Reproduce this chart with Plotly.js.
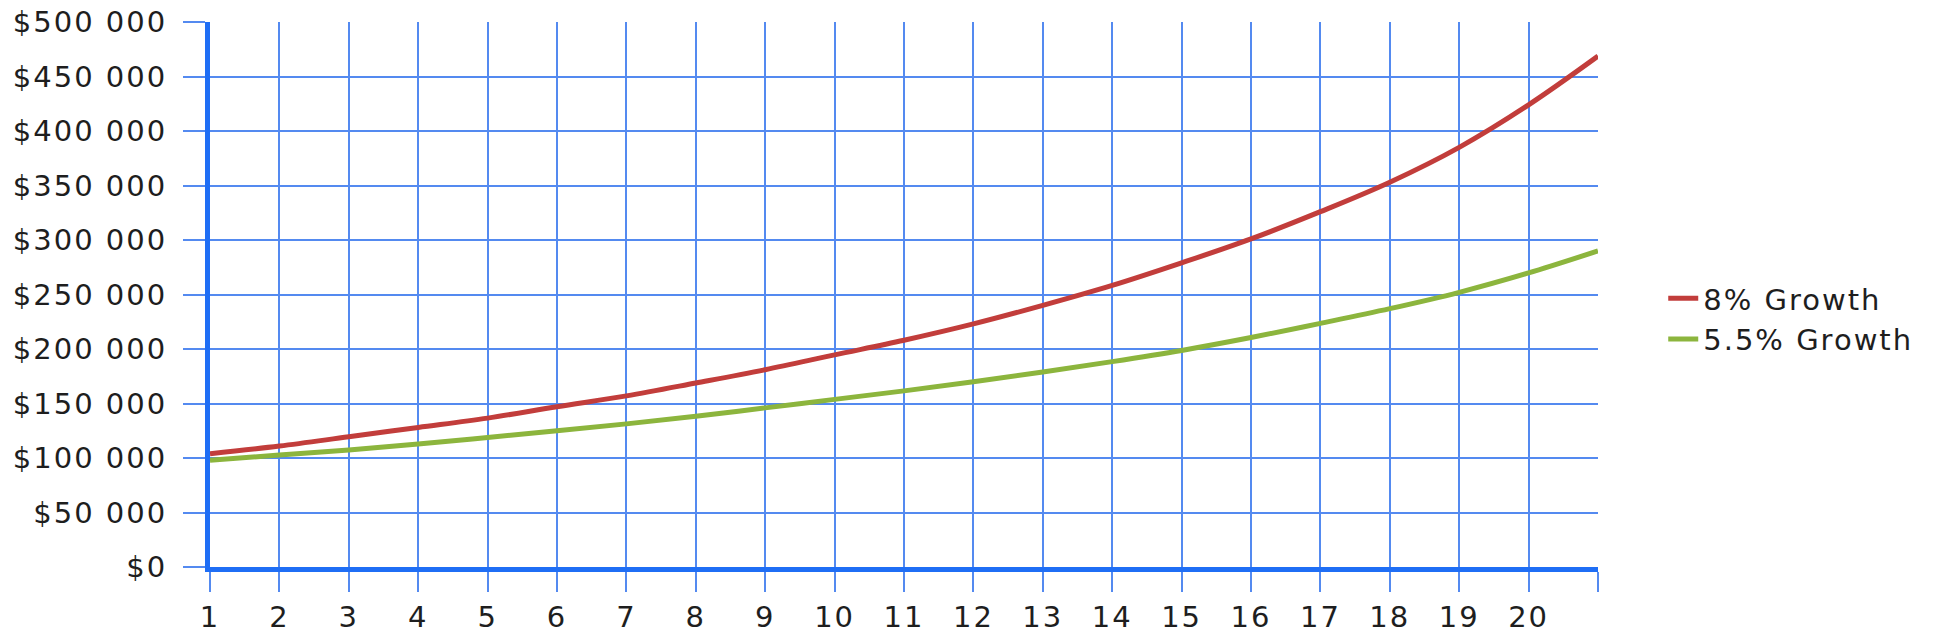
<!DOCTYPE html>
<html>
<head>
<meta charset="utf-8">
<script src="https://cdn.plot.ly/plotly-3.0.1.min.js"></script>
<style>
  html, body { margin: 0; padding: 0; background: #fff; }
  #chart { width: 1950px; height: 644px; }
  svg text { letter-spacing: 2px; }
</style>
</head>
<body>
<div id="chart"></div>
<script>
// Years (x positions) — last one is the right edge of the plot
const years = [1, 2, 3, 4, 5, 6, 7, 8, 9, 10, 11, 12, 13, 14, 15, 16, 17, 18, 19, 20, 21];
const xTickLabels = ['1','2','3','4','5','6','7','8','9','10','11','12','13','14','15','16','17','18','19','20',''];

// Series values
const growth8 = [104000, 111000, 119500, 128000, 136600, 147000, 157000, 168800, 181000, 194600,
                 208000, 223000, 240000, 258300, 279000, 301000, 326000, 353000, 385000, 424000, 468700];
const growth55 = [98000, 102700, 107300, 112800, 118800, 125000, 131300, 138300, 146000, 153800,
                  161600, 169900, 178900, 188400, 198700, 210500, 223500, 237000, 252000, 269800, 290000];

const seriesNames = ['8% Growth', '5.5% Growth'];

const yTickVals = [0, 50000, 100000, 150000, 200000, 250000, 300000, 350000, 400000, 450000, 500000];
const yTickLabels = ['$0', '$50 000', '$100 000', '$150 000', '$200 000', '$250 000', '$300 000',
                     '$350 000', '$400 000', '$450 000', '$500 000'];

const gridColor = 'rgb(84,138,240)';
const axisColor = '#1f6ef5';
const textColor = '#1e1e1e';
const fontFamily = '"DejaVu Sans", Verdana, sans-serif';

const traces = [
  {
    x: years, y: growth8, name: seriesNames[0], type: 'scatter', mode: 'lines',
    line: { color: '#c23d3b', width: 5, shape: 'spline', smoothing: 1 }
  },
  {
    x: years, y: growth55, name: seriesNames[1], type: 'scatter', mode: 'lines',
    line: { color: '#8cb53d', width: 5, shape: 'spline', smoothing: 1 }
  }
];

const layout = {
  width: 1950, height: 644,
  margin: { l: 210, r: 352, t: 22, b: 77 },
  paper_bgcolor: '#ffffff', plot_bgcolor: '#ffffff',
  font: { family: fontFamily, size: 29, color: textColor },
  showlegend: true,
  legend: {
    x: 1.047, y: 0.455, xanchor: 'left', yanchor: 'middle',
    font: { family: fontFamily, size: 29, color: textColor },
    bgcolor: 'rgba(0,0,0,0)', borderwidth: 0,
    tracegroupgap: 0, itemwidth: 30
  },
  xaxis: {
    range: [1, 21],
    tickmode: 'array', tickvals: years, ticktext: xTickLabels,
    showgrid: true, gridcolor: gridColor, gridwidth: 2,
    ticks: 'outside', ticklen: 20, tickwidth: 2, tickcolor: gridColor,
    showline: true, linecolor: axisColor, linewidth: 5,
    zeroline: false,
    tickfont: { family: fontFamily, size: 29, color: textColor },
    ticklabelstandoff: 0
  },
  yaxis: {
    range: [0, 500000],
    tickmode: 'array', tickvals: yTickVals, ticktext: yTickLabels,
    showgrid: true, gridcolor: gridColor, gridwidth: 2,
    ticks: 'outside', ticklen: 22, tickwidth: 2, tickcolor: gridColor,
    showline: true, linecolor: axisColor, linewidth: 5,
    zeroline: false,
    tickfont: { family: fontFamily, size: 29, color: textColor },
    ticklabelstandoff: 10
  }
};

Plotly.newPlot('chart', traces, layout, { displayModeBar: false, staticPlot: true });
</script>
</body>
</html>
